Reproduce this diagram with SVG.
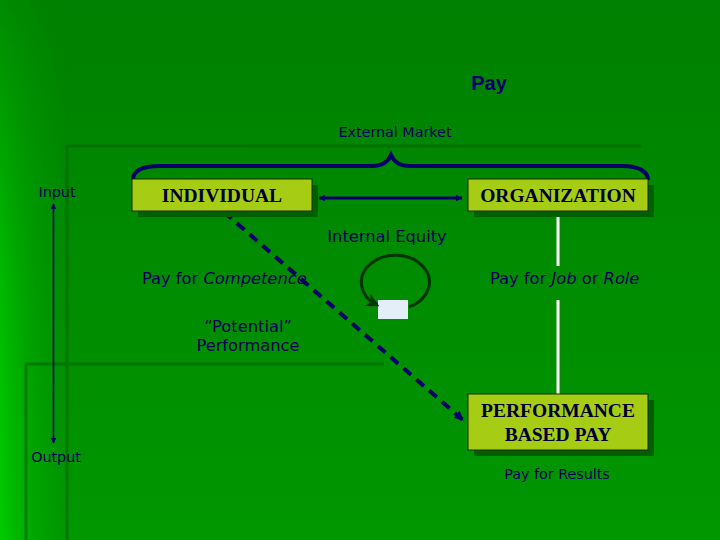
<svg xmlns="http://www.w3.org/2000/svg" width="720" height="540" viewBox="0 0 720 540">
<defs>
<linearGradient id="bg" x1="0" y1="0" x2="0" y2="1">
<stop offset="0" stop-color="#008000"/>
<stop offset="1" stop-color="#009700"/>
</linearGradient>
<linearGradient id="lft" x1="0" y1="0" x2="1" y2="0">
<stop offset="0" stop-color="#00cc00" stop-opacity="1"/>
<stop offset="0.4" stop-color="#00b400" stop-opacity="0.7"/>
<stop offset="1" stop-color="#00a000" stop-opacity="0"/>
</linearGradient>
<linearGradient id="lftv" x1="0" y1="0" x2="0" y2="1">
<stop offset="0" stop-color="#fff" stop-opacity="0.15"/>
<stop offset="0.5" stop-color="#fff" stop-opacity="0.7"/>
<stop offset="1" stop-color="#fff" stop-opacity="1"/>
</linearGradient>
<mask id="lm"><rect x="0" y="0" width="720" height="540" fill="url(#lftv)"/></mask>
<marker id="ah" viewBox="0 0 10 10" refX="9" refY="5" markerWidth="2.4" markerHeight="2.4" orient="auto-start-reverse" markerUnits="strokeWidth">
<path d="M0,0 L10,5 L0,10 z" fill="#000066"/>
</marker>
<marker id="ahd" viewBox="0 0 10 10" refX="9" refY="5" markerWidth="2.4" markerHeight="2.4" orient="auto" markerUnits="strokeWidth">
<path d="M0,0 L10,5 L0,10 z" fill="#000066"/>
</marker>
<marker id="ah2" viewBox="0 0 10 10" refX="9" refY="5" markerWidth="3.8" markerHeight="3.8" orient="auto-start-reverse" markerUnits="strokeWidth">
<path d="M0,0 L10,5 L0,10 z" fill="#000066"/>
</marker>
<marker id="ahg" viewBox="0 0 10 10" refX="8" refY="5" markerWidth="4.5" markerHeight="4.5" orient="auto" markerUnits="strokeWidth">
<path d="M0,0 L10,5 L0,10 L3,5 z" fill="#003300"/>
</marker>
</defs>
<style>
.lbl{font-family:"DejaVu Sans","Liberation Sans",sans-serif;font-size:16.3px;fill:#000055}
.sm{font-family:"DejaVu Sans","Liberation Sans",sans-serif;font-size:14.3px;fill:#000055}
.box{fill:#a6cc14;stroke:#1a2a00;stroke-width:1}
.shadow{fill:#005f00}
.bt{font-family:"Liberation Serif","Times New Roman",serif;font-weight:bold;font-size:19.5px;fill:#000033;text-anchor:middle}
.nv{stroke:#000066;fill:none}
</style>
<rect x="0" y="0" width="720" height="540" fill="url(#bg)"/>
<rect x="0" y="0" width="70" height="540" fill="url(#lft)" mask="url(#lm)"/>
<g stroke="#006a00" stroke-width="3" fill="none" opacity="0.7">
<path d="M66,146 H642"/>
<path d="M67,146 V540"/>
<path d="M25,364 H384"/>
<path d="M26,364 V540"/>
</g>
<text x="489" y="90" font-family="Liberation Sans, Arial, sans-serif" font-weight="bold" font-size="20" fill="#000066" text-anchor="middle">Pay</text>
<text class="sm" x="395" y="137" text-anchor="middle">External Market</text>
<path class="nv" stroke-width="4" d="M133,180 C133,172 140,166 160,166 H372 C382,166 388,162 391,155 C394,162 400,166 410,166 H622 C640,166 648,172 648,180"/>
<g id="connectors">
<path class="nv" stroke-width="3" d="M319,198 H462" marker-start="url(#ah)" marker-end="url(#ah)"/>
<path class="nv" stroke-width="4" stroke-dasharray="10,7" d="M224,212 L463,420" marker-end="url(#ahd)"/>
<path stroke="#ffffff" stroke-width="3" d="M558,211 V266 M558,300 V395"/>
<path class="nv" stroke-width="1.6" d="M53.5,204 V443" marker-start="url(#ah2)" marker-end="url(#ah2)"/>
</g>
<g id="loop">
<rect x="378" y="300" width="30" height="19" fill="#e4eef8"/>
<path d="M409,307 A34,27 0 1 0 377,305" fill="none" stroke="#003300" stroke-width="3" marker-end="url(#ahg)"/>
</g>
<g id="individual">
<rect class="shadow" x="138" y="185" width="180" height="32"/>
<rect class="box" x="132" y="179" width="180" height="32"/>
<text class="bt" x="222" y="202">INDIVIDUAL</text>
</g>
<g id="organization">
<rect class="shadow" x="474" y="185" width="180" height="32"/>
<rect class="box" x="468" y="179" width="180" height="32"/>
<text class="bt" x="558" y="202">ORGANIZATION</text>
</g>
<g id="performance">
<rect class="shadow" x="474" y="400" width="180" height="56"/>
<rect class="box" x="468" y="394" width="180" height="56"/>
<text class="bt" x="558" y="417">PERFORMANCE</text>
<text class="bt" x="558" y="441">BASED PAY</text>
</g>
<text class="lbl" x="387" y="242" text-anchor="middle">Internal Equity</text>
<text class="lbl" x="142" y="284">Pay for <tspan font-style="italic">Competence</tspan></text>
<text class="lbl" x="490" y="284">Pay for <tspan font-style="italic">Job</tspan> or <tspan font-style="italic">Role</tspan></text>
<text class="lbl" x="248" y="332" text-anchor="middle">“Potential”</text>
<text class="lbl" x="248" y="351" text-anchor="middle">Performance</text>
<text class="sm" x="557" y="479" text-anchor="middle">Pay for Results</text>
<text class="sm" x="57" y="197" text-anchor="middle">Input</text>
<text class="sm" x="56" y="462" text-anchor="middle">Output</text>
</svg>
